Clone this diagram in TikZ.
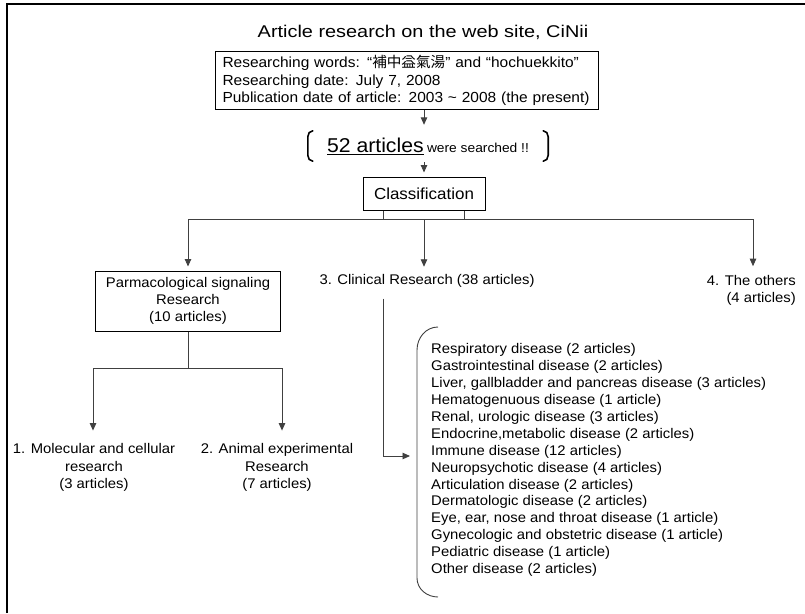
\documentclass[tikz,border=0pt]{standalone}
\usepackage{fontspec}
\setmainfont{Liberation Sans}[FakeStretch=1.06]
\newfontfamily\ttlfont{Liberation Sans}[FakeStretch=1.17]
\newfontfamily\cjk{Noto Sans CJK KR}
\usetikzlibrary{arrows.meta,calc}
\begin{document}
\begin{tikzpicture}[x=1pt,y=-1pt,
  txt/.style={font=\fontsize{14}{17.2}\selectfont, inner sep=0pt, align=center},
  boxed/.style={draw, line width=1pt},
  conn/.style={line width=0.9pt, draw=black!75},
  arr/.style={conn, -{Triangle[length=7.5pt,width=6.5pt]}},
  brackline/.style={line width=1.6pt, line cap=round},
]
\useasboundingbox (0,0) rectangle (805,613);
\draw[line width=1.3pt] (7,613) -- (7,4) -- (805,4);

\node[font=\ttlfont\fontsize{17}{20}\selectfont, inner sep=0pt] (title) at (423,32) {Article research on the web site, CiNii};

\node[boxed, align=left, font=\fontsize{14.6}{17.5}\selectfont, minimum width=383pt, minimum height=58pt, text width=369pt, inner xsep=7pt, inner ysep=0pt, anchor=north west] (words) at (215,51)
 {Researching words: “{\cjk 補中益氣湯}” and “hochuekkito”\\
  Researching date: July 7, 2008\\
  Publication date of article: 2003 \textasciitilde{} 2008 (the present)};

\node[minimum width=240pt, minimum height=32pt, inner sep=0pt] (brk) at (428,146)
 {\fontsize{20}{20}\selectfont\underline{52 articles}\,{\fontsize{13}{13}\selectfont were searched !!}};
\draw[brackline] ($(brk.north west)+(5,1)$) to[out=180,in=90] ($(brk.north west)+(0,7)$) -- ($(brk.south west)+(0,-7)$) to[out=-90,in=180] ($(brk.south west)+(5,-1)$);
\draw[brackline] ($(brk.north east)+(-5,1)$) to[out=0,in=90] ($(brk.north east)+(0,7)$) -- ($(brk.south east)+(0,-7)$) to[out=-90,in=0] ($(brk.south east)+(-5,-1)$);

\node[boxed, minimum width=122pt, minimum height=33pt, inner sep=0pt, font=\fontsize{16}{16}\selectfont] (cls) at (424,193.5) {Classification};

\draw[arr, shorten >=5pt] (words.south -| cls) -- (brk.north -| cls);
\draw[arr, shorten >=4pt] (brk.south -| cls) -- (cls.north);

\coordinate (jl) at (383,219);
\coordinate (jr) at (464,219);
\coordinate (hl) at (188,219);
\coordinate (hr) at (753,219);
\coordinate (hm) at (424,219);
\draw[conn] (cls.south -| jl) -- (jl);
\draw[conn] (cls.south -| jr) -- (jr);
\draw[conn] (hl) -- (hr);

\node[txt] (clin) at (427,281) {3. Clinical Research (38 articles)};
\node[txt, align=right, anchor=east] (others) at (796,290.5) {4. The others\\(4 articles)};
\node[boxed, txt, minimum width=185pt, minimum height=60pt] (park) at (188,301) {Parmacological signaling\\Research\\(10 articles)};

\draw[arr, shorten >=7.5pt] (hm) -- (hm |- clin.north);
\draw[arr, shorten >=9pt] (hr) -- (hr |- others.north);
\draw[arr, shorten >=4pt] (hl) -- (park.north);

\node[txt] (mol) at (94,467.5) {1. Molecular and cellular\\research\\(3 articles)};
\node[txt] (ani) at (277,467.5) {2. Animal experimental\\Research\\(7 articles)};

\coordinate (pl) at (93,368);
\coordinate (pr) at (282,368);
\draw[conn] (park.south) -- (park.south |- pl);
\draw[conn] (pl) -- (pr);
\draw[arr, shorten >=13pt] (pl) -- (pl |- mol.north);
\draw[arr, shorten >=13pt] (pr) -- (pr |- ani.north);

\node[txt, align=left, anchor=north west, font=\fontsize{14}{16.9}\selectfont] (lst) at (431,343.5)
 {Respiratory disease (2 articles)\\
  Gastrointestinal disease (2 articles)\\
  Liver, gallbladder and pancreas disease (3 articles)\\
  Hematogenuous disease (1 article)\\
  Renal, urologic disease (3 articles)\\
  Endocrine,metabolic disease (2 articles)\\
  Immune disease (12 articles)\\
  Neuropsychotic disease (4 articles)\\
  Articulation disease (2 articles)\\
  Dermatologic disease (2 articles)\\
  Eye, ear, nose and throat disease (1 article)\\
  Gynecologic and obstetric disease (1 article)\\
  Pediatric disease (1 article)\\
  Other disease (2 articles)};
\draw[line width=0.9pt, draw=black!75] ($(lst.north west)+(7,-16.5)$) to[out=180,in=90] ($(lst.north west)+(-14,6.5)$) -- ($(lst.north west)+(-14,234.5)$) to[out=-90,in=180] ($(lst.north west)+(7,253.5)$);

\coordinate (cv) at (383,456);
\draw[arr, shorten <=11pt, shorten >=21pt] (clin.south -| cv) -- (cv) -- (cv -| lst.west);
\end{tikzpicture}
\end{document}
